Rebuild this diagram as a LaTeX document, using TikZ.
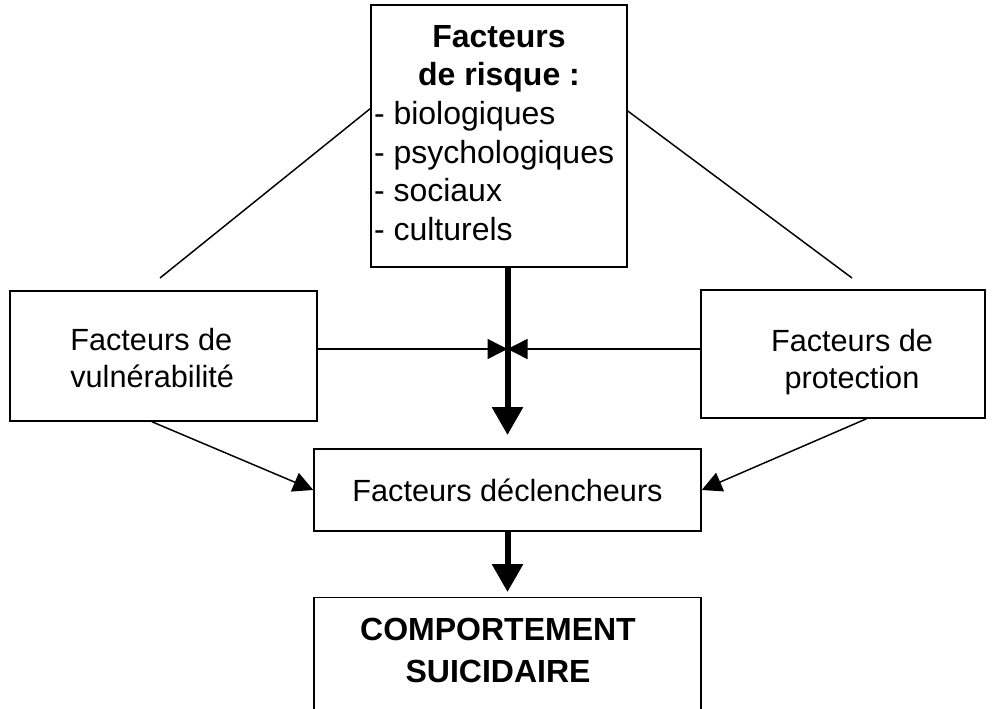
\documentclass[tikz,border=0pt]{standalone}
\usepackage{fontspec}
\setmainfont{Liberation Sans}
\usetikzlibrary{arrows.meta}

\begin{document}
\begin{tikzpicture}[x=0.75pt,y=-0.75pt]
                        \tikzstyle{box}=[draw, line width=1.1pt, inner sep=0pt, font=\fontsize{23}{27.75}\selectfont]
                        \tikzstyle{trait}=[line width=1.1pt]
                        \tikzstyle{fleche}=[line width=1.1pt, -{Triangle[width=15pt,length=15pt]}]
                        \tikzstyle{grosse}=[line width=4.5pt, -{Triangle[width=22.5pt,length=21pt]}]
                        \useasboundingbox (0,0) rectangle (995,709);
                        \clip (0,0) rectangle (995,709);
                        \node[box, minimum width=192pt, minimum height=196.5pt] (risk) at (499,136)
                            {\fontsize{24}{29}\selectfont\begin{tabular}{@{}p{187.5pt}@{}}
                                \multicolumn{1}{@{}c@{}}{\textbf{Facteurs}}\\
                                \multicolumn{1}{@{}c@{}}{\textbf{de risque :}}\\
                                - biologiques\\
                                - psychologiques\\
                                - sociaux\\
                                - culturels
                            \end{tabular}};
                        \node[box, minimum width=230.25pt, minimum height=97.5pt, text height=42.5pt, text depth=22pt] (vuln) at (163.5,356)
                            {\begin{tabular}{@{}l@{\hspace{17pt}}}Facteurs de\\vulnérabilité\end{tabular}};
                        \node[box, minimum width=213pt, minimum height=96pt, text height=47pt, text depth=22pt] (prot) at (843,354)
                            {\begin{tabular}{@{\hspace{13.5pt}}c@{}}Facteurs de\\protection\end{tabular}};
                        \node[box, minimum width=290.25pt, minimum height=61.5pt] (decl) at (507.5,490)
                            {Facteurs déclencheurs};
                        \node[box, anchor=north, minimum width=290.25pt, text height=48pt, text depth=100pt] (comp) at (507.5,597)
                            {\fontsize{24}{31.5}\selectfont\begin{tabular}{@{}c@{\hspace{14.25pt}}}
                                \textbf{COMPORTEMENT}\\
                                \textbf{SUICIDAIRE}
                            \end{tabular}};
                        % lignes vers les facteurs de risque
                        \coordinate (vg) at (160,278);
                        \coordinate (vd) at (852,278);
                        \draw[trait] (vg) -- (risk.168);
                        \draw[trait] (vd) -- (risk.11);
                        % fleches centrales
                        \coordinate (croix) at (507.5,349);
                        \coordinate (pointe) at (507.5,435);
                        \draw[grosse] (risk.south -| croix) -- (pointe);
                        \draw[fleche] (vuln.east |- croix) -- (croix);
                        \draw[fleche] (prot.west |- croix) -- (croix);
                        \draw[fleche] (vuln.260) -- (decl.west);
                        \draw[fleche] (prot.290) -- (decl.east);
                        \draw[grosse, shorten >=3.75pt] (decl.south) -- (comp.north);
                    \end{tikzpicture}
\end{document}
